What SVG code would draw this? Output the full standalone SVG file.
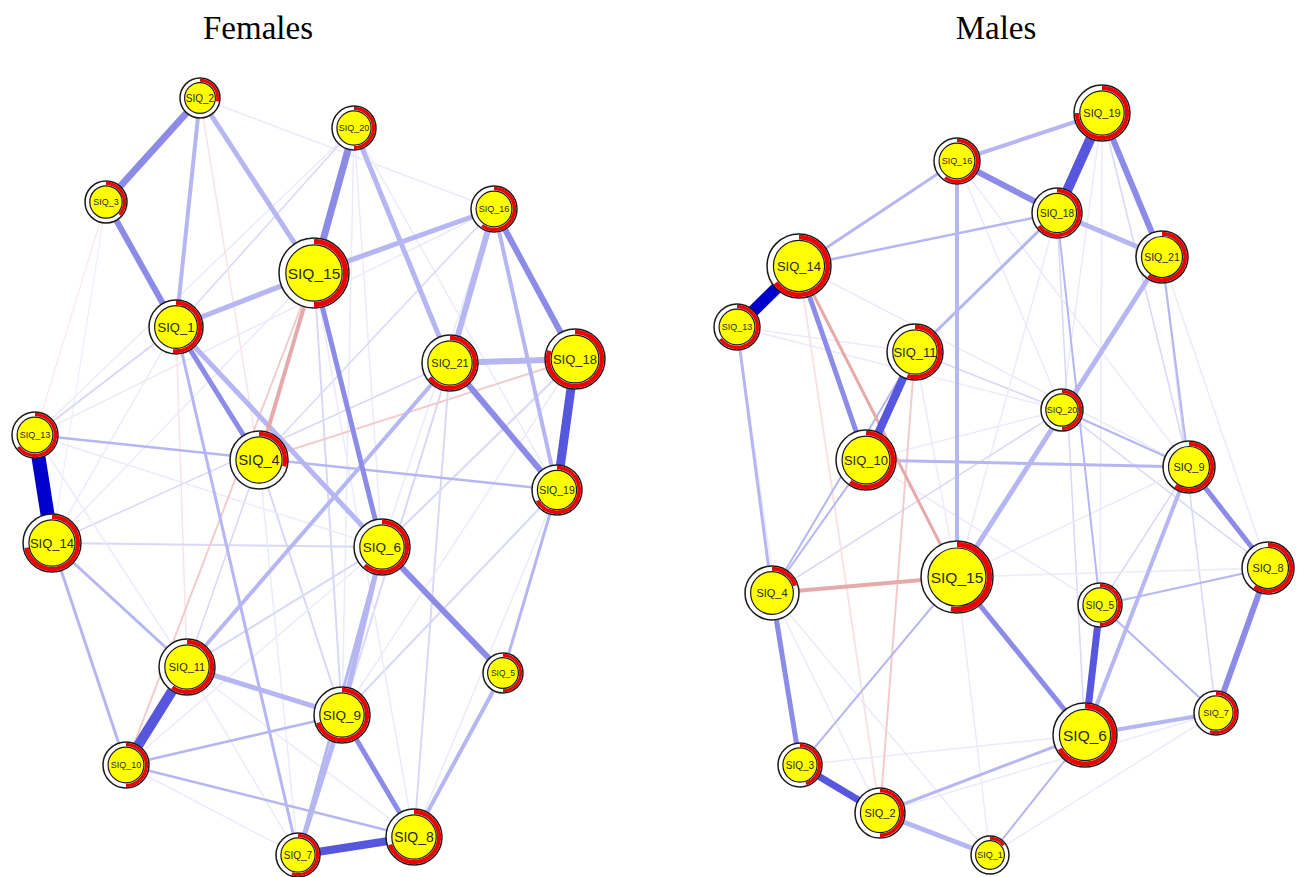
<svg xmlns="http://www.w3.org/2000/svg" width="1298" height="877" viewBox="0 0 1298 877">
<style>
.bg{fill:#fff}
.title{font-family:"Liberation Serif","Times New Roman",serif;font-size:33px;fill:#000;text-anchor:middle}
#edges line{stroke-linecap:butt;fill:none}
.k1{stroke:#0000cc}
.k2{stroke:#5656de}
.k3{stroke:#8c8ce8}
.k4{stroke:#b6b6f2}
.k5{stroke:#d8d8f8}
.k6{stroke:#ebebfc}
.r1{stroke:#e6aaaa}
.r2{stroke:#f2cccc}
.r3{stroke:#f8e4e4}
.o{fill:#fff;stroke:#1a1a1a;stroke-width:1.5}
.p{fill:none;stroke:#ee0000}
.i{fill:#ffff00;stroke:#1a1a1a;stroke-width:1.2}
.node text{font-family:"Liberation Sans",Arial,sans-serif;fill:#2a2a10;text-anchor:middle}
</style>
<rect class="bg" x="0" y="0" width="1298" height="877"/>
<text class="title" x="258" y="39">Females</text>
<text class="title" x="996" y="39">Males</text>
<g id="edges">
<!-- Females faint -->
<line class="k6" stroke-width="1.5" x1="200" y1="98" x2="494" y2="209"/>
<line class="k5" stroke-width="1.5" x1="354" y1="128" x2="176" y2="327"/>
<line class="k6" stroke-width="1.5" x1="354" y1="128" x2="35" y2="435"/>
<line class="k6" stroke-width="1.5" x1="354" y1="128" x2="259" y2="460"/>
<line class="k6" stroke-width="1.5" x1="354" y1="128" x2="342" y2="715"/>
<line class="k6" stroke-width="1.5" x1="354" y1="128" x2="382" y2="547"/>
<line class="k6" stroke-width="1.5" x1="354" y1="128" x2="557" y2="490"/>
<line class="k5" stroke-width="2" x1="494" y1="209" x2="176" y2="327"/>
<line class="k6" stroke-width="1.5" x1="494" y1="209" x2="35" y2="435"/>
<line class="k5" stroke-width="1.5" x1="494" y1="209" x2="259" y2="460"/>
<line class="k6" stroke-width="1.5" x1="494" y1="209" x2="382" y2="547"/>
<line class="r3" stroke-width="1" x1="106" y1="202" x2="35" y2="435"/>
<line class="k6" stroke-width="1" x1="106" y1="202" x2="52" y2="543"/>
<line class="k6" stroke-width="1" x1="106" y1="202" x2="259" y2="460"/>
<line class="r3" stroke-width="1.5" x1="200" y1="98" x2="259" y2="460"/>
<line class="r3" stroke-width="1" x1="200" y1="98" x2="314" y2="273"/>
<line class="k5" stroke-width="2" x1="176" y1="327" x2="35" y2="435"/>
<line class="k6" stroke-width="1.5" x1="176" y1="327" x2="52" y2="543"/>
<line class="r3" stroke-width="1.5" x1="176" y1="327" x2="187" y2="667"/>
<line class="k5" stroke-width="2" x1="176" y1="327" x2="382" y2="547"/>
<line class="k5" stroke-width="2" x1="52" y1="543" x2="382" y2="547"/>
<line class="k5" stroke-width="1.5" x1="52" y1="543" x2="450" y2="363"/>
<line class="k6" stroke-width="1.5" x1="52" y1="543" x2="314" y2="273"/>
<line class="k5" stroke-width="1.5" x1="259" y1="460" x2="187" y2="667"/>
<line class="k5" stroke-width="2" x1="259" y1="460" x2="342" y2="715"/>
<line class="k6" stroke-width="1.5" x1="259" y1="460" x2="298" y2="855"/>
<line class="k5" stroke-width="2" x1="382" y1="547" x2="187" y2="667"/>
<line class="k6" stroke-width="1.5" x1="382" y1="547" x2="126" y2="765"/>
<line class="k5" stroke-width="2" x1="450" y1="363" x2="342" y2="715"/>
<line class="k5" stroke-width="2" x1="450" y1="363" x2="414" y2="837"/>
<line class="k5" stroke-width="2" x1="575" y1="359" x2="382" y2="547"/>
<line class="k6" stroke-width="1.5" x1="575" y1="359" x2="342" y2="715"/>
<line class="k6" stroke-width="1.5" x1="557" y1="490" x2="414" y2="837"/>
<line class="k5" stroke-width="2" x1="557" y1="490" x2="342" y2="715"/>
<line class="k5" stroke-width="2" x1="314" y1="273" x2="342" y2="715"/>
<line class="k6" stroke-width="1.5" x1="314" y1="273" x2="414" y2="837"/>
<line class="k6" stroke-width="1.5" x1="35" y1="435" x2="187" y2="667"/>
<line class="k6" stroke-width="1.5" x1="35" y1="435" x2="382" y2="547"/>
<line class="k6" stroke-width="1.5" x1="126" y1="765" x2="298" y2="855"/>
<line class="k6" stroke-width="1.5" x1="187" y1="667" x2="414" y2="837"/>
<line class="k6" stroke-width="1.5" x1="187" y1="667" x2="298" y2="855"/>
<!-- Females main -->
<line class="r2" stroke-width="2" x1="314" y1="273" x2="126" y2="765"/>
<line class="r2" stroke-width="2" x1="259" y1="460" x2="575" y2="359"/>
<line class="k4" stroke-width="2.5" x1="35" y1="435" x2="557" y2="490"/>
<line class="k4" stroke-width="3" x1="52" y1="543" x2="126" y2="765"/>
<line class="k4" stroke-width="3" x1="52" y1="543" x2="187" y2="667"/>
<line class="k4" stroke-width="2.5" x1="126" y1="765" x2="342" y2="715"/>
<line class="k4" stroke-width="2.5" x1="126" y1="765" x2="414" y2="837"/>
<line class="k4" stroke-width="3" x1="176" y1="327" x2="298" y2="855"/>
<line class="k4" stroke-width="3" x1="382" y1="547" x2="298" y2="855"/>
<line class="k4" stroke-width="3" x1="503" y1="673" x2="557" y2="490"/>
<line class="k4" stroke-width="4" x1="503" y1="673" x2="414" y2="837"/>
<line class="k4" stroke-width="4" x1="200" y1="98" x2="176" y2="327"/>
<line class="k4" stroke-width="5" x1="200" y1="98" x2="314" y2="273"/>
<line class="k4" stroke-width="5" x1="354" y1="128" x2="450" y2="363"/>
<line class="k4" stroke-width="5" x1="314" y1="273" x2="176" y2="327"/>
<line class="k4" stroke-width="5" x1="314" y1="273" x2="494" y2="209"/>
<line class="k4" stroke-width="6" x1="494" y1="209" x2="450" y2="363"/>
<line class="k4" stroke-width="4" x1="494" y1="209" x2="557" y2="490"/>
<line class="k4" stroke-width="6" x1="450" y1="363" x2="575" y2="359"/>
<line class="k4" stroke-width="5" x1="176" y1="327" x2="382" y2="547"/>
<line class="k4" stroke-width="4" x1="187" y1="667" x2="450" y2="363"/>
<line class="k4" stroke-width="5" x1="187" y1="667" x2="342" y2="715"/>
<line class="k4" stroke-width="5" x1="382" y1="547" x2="342" y2="715"/>
<line class="k4" stroke-width="5" x1="342" y1="715" x2="298" y2="855"/>
<line class="r1" stroke-width="4" x1="314" y1="273" x2="259" y2="460"/>
<line class="k3" stroke-width="7" x1="200" y1="98" x2="106" y2="202"/>
<line class="k3" stroke-width="6" x1="106" y1="202" x2="176" y2="327"/>
<line class="k3" stroke-width="7" x1="354" y1="128" x2="314" y2="273"/>
<line class="k3" stroke-width="5" x1="314" y1="273" x2="382" y2="547"/>
<line class="k3" stroke-width="6" x1="494" y1="209" x2="575" y2="359"/>
<line class="k3" stroke-width="6" x1="450" y1="363" x2="557" y2="490"/>
<line class="k3" stroke-width="5" x1="176" y1="327" x2="259" y2="460"/>
<line class="k3" stroke-width="5" x1="342" y1="715" x2="414" y2="837"/>
<line class="k3" stroke-width="6" x1="382" y1="547" x2="503" y2="673"/>
<line class="k2" stroke-width="8" x1="298" y1="855" x2="414" y2="837"/>
<line class="k2" stroke-width="9" x1="575" y1="359" x2="557" y2="490"/>
<line class="k2" stroke-width="10" x1="187" y1="667" x2="126" y2="765"/>
<line class="k1" stroke-width="14" x1="35" y1="435" x2="52" y2="543"/>
<!-- Males faint -->
<line class="k6" stroke-width="1.5" x1="957" y1="161" x2="1062" y2="410"/>
<line class="k6" stroke-width="1.5" x1="1102" y1="113" x2="1062" y2="410"/>
<line class="k5" stroke-width="1.5" x1="1102" y1="113" x2="1189" y2="467"/>
<line class="k6" stroke-width="1.5" x1="1102" y1="113" x2="1100" y2="605"/>
<line class="k6" stroke-width="1.5" x1="1162" y1="257" x2="1268" y2="568"/>
<line class="k6" stroke-width="1.5" x1="737" y1="327" x2="915" y2="352"/>
<line class="k6" stroke-width="1.5" x1="737" y1="327" x2="800" y2="765"/>
<line class="k6" stroke-width="1.5" x1="737" y1="327" x2="1062" y2="410"/>
<line class="k6" stroke-width="1.5" x1="990" y1="855" x2="957" y2="577"/>
<line class="k5" stroke-width="1.5" x1="1100" y1="605" x2="1189" y2="467"/>
<line class="k6" stroke-width="1.5" x1="772" y1="593" x2="880" y2="813"/>
<line class="k6" stroke-width="1.5" x1="772" y1="593" x2="990" y2="855"/>
<line class="k6" stroke-width="1.5" x1="866" y1="460" x2="1062" y2="410"/>
<line class="k5" stroke-width="1.5" x1="915" y1="352" x2="1062" y2="410"/>
<line class="k6" stroke-width="1.5" x1="915" y1="352" x2="957" y2="577"/>
<line class="k6" stroke-width="1.5" x1="880" y1="813" x2="1216" y2="713"/>
<line class="k6" stroke-width="1.5" x1="990" y1="855" x2="1216" y2="713"/>
<line class="k6" stroke-width="1.5" x1="800" y1="765" x2="1085" y2="735"/>
<line class="k6" stroke-width="1.5" x1="799" y1="266" x2="1189" y2="467"/>
<line class="k5" stroke-width="1.5" x1="1057" y1="213" x2="1085" y2="735"/>
<line class="k5" stroke-width="1.5" x1="1162" y1="257" x2="1216" y2="713"/>
<line class="k6" stroke-width="1.5" x1="957" y1="161" x2="1189" y2="467"/>
<line class="k5" stroke-width="1.5" x1="1062" y1="410" x2="1268" y2="568"/>
<line class="k6" stroke-width="1.5" x1="866" y1="460" x2="1100" y2="605"/>
<line class="k6" stroke-width="1.5" x1="1057" y1="213" x2="957" y2="577"/>
<line class="k6" stroke-width="1.5" x1="957" y1="577" x2="1268" y2="568"/>
<line class="k6" stroke-width="1.5" x1="957" y1="577" x2="1189" y2="467"/>
<line class="k5" stroke-width="1.5" x1="772" y1="593" x2="1062" y2="410"/>
<!-- Males main -->
<line class="r3" stroke-width="2" x1="799" y1="266" x2="880" y2="813"/>
<line class="r2" stroke-width="2" x1="915" y1="352" x2="880" y2="813"/>
<line class="k4" stroke-width="3" x1="799" y1="266" x2="957" y2="161"/>
<line class="k4" stroke-width="2.5" x1="799" y1="266" x2="1057" y2="213"/>
<line class="k4" stroke-width="3" x1="915" y1="352" x2="1057" y2="213"/>
<line class="k4" stroke-width="3" x1="866" y1="460" x2="1189" y2="467"/>
<line class="k4" stroke-width="2" x1="866" y1="460" x2="772" y2="593"/>
<line class="k4" stroke-width="3" x1="737" y1="327" x2="772" y2="593"/>
<line class="k4" stroke-width="2" x1="772" y1="593" x2="915" y2="352"/>
<line class="k4" stroke-width="2" x1="1189" y1="467" x2="1062" y2="410"/>
<line class="k4" stroke-width="2" x1="1057" y1="213" x2="1100" y2="605"/>
<line class="k4" stroke-width="2" x1="1162" y1="257" x2="1189" y2="467"/>
<line class="k4" stroke-width="2" x1="800" y1="765" x2="957" y2="577"/>
<line class="k4" stroke-width="2" x1="1100" y1="605" x2="1268" y2="568"/>
<line class="k4" stroke-width="2" x1="1100" y1="605" x2="1216" y2="713"/>
<line class="k4" stroke-width="3" x1="880" y1="813" x2="1085" y2="735"/>
<line class="k4" stroke-width="2" x1="990" y1="855" x2="1085" y2="735"/>
<line class="k4" stroke-width="4" x1="1085" y1="735" x2="1216" y2="713"/>
<line class="k4" stroke-width="4" x1="1085" y1="735" x2="1189" y2="467"/>
<line class="k4" stroke-width="4" x1="957" y1="161" x2="957" y2="577"/>
<line class="k4" stroke-width="4" x1="1102" y1="113" x2="957" y2="161"/>
<line class="k4" stroke-width="5" x1="1057" y1="213" x2="1162" y2="257"/>
<line class="k4" stroke-width="5" x1="1162" y1="257" x2="957" y2="577"/>
<line class="k4" stroke-width="5" x1="880" y1="813" x2="990" y2="855"/>
<line class="r1" stroke-width="3" x1="799" y1="266" x2="957" y2="577"/>
<line class="r1" stroke-width="4" x1="957" y1="577" x2="772" y2="593"/>
<line class="k3" stroke-width="6" x1="1102" y1="113" x2="1162" y2="257"/>
<line class="k3" stroke-width="6" x1="957" y1="161" x2="1057" y2="213"/>
<line class="k3" stroke-width="5" x1="799" y1="266" x2="866" y2="460"/>
<line class="k3" stroke-width="5" x1="957" y1="577" x2="1085" y2="735"/>
<line class="k3" stroke-width="5" x1="1189" y1="467" x2="1268" y2="568"/>
<line class="k3" stroke-width="6" x1="1268" y1="568" x2="1216" y2="713"/>
<line class="k3" stroke-width="5" x1="772" y1="593" x2="800" y2="765"/>
<line class="k2" stroke-width="7" x1="1100" y1="605" x2="1085" y2="735"/>
<line class="k2" stroke-width="7" x1="800" y1="765" x2="880" y2="813"/>
<line class="k2" stroke-width="8" x1="915" y1="352" x2="866" y2="460"/>
<line class="k2" stroke-width="10" x1="1102" y1="113" x2="1057" y2="213"/>
<line class="k1" stroke-width="12" x1="799" y1="266" x2="737" y2="327"/>
</g>
<!-- Female nodes -->
<g id="f-siq2" class="node"><circle class="o" cx="200" cy="98" r="20"/><circle class="p" cx="200" cy="98" r="17.7" stroke-width="3" pathLength="100" stroke-dasharray="28 100" transform="rotate(-90 200 98)"/><circle class="i" cx="200" cy="98" r="15.4"/><text x="200" y="101.5" font-size="10">SIQ_2</text></g>
<g id="f-siq20" class="node"><circle class="o" cx="354" cy="128" r="22"/><circle class="p" cx="354" cy="128" r="19.55" stroke-width="3.3" pathLength="100" stroke-dasharray="50 100" transform="rotate(-90 354 128)"/><circle class="i" cx="354" cy="128" r="17.1"/><text x="354" y="131" font-size="9">SIQ_20</text></g>
<g id="f-siq3" class="node"><circle class="o" cx="106" cy="202" r="21"/><circle class="p" cx="106" cy="202" r="18.6" stroke-width="3.2" pathLength="100" stroke-dasharray="37 100" transform="rotate(-90 106 202)"/><circle class="i" cx="106" cy="202" r="16.2"/><text x="106" y="205" font-size="9">SIQ_3</text></g>
<g id="f-siq15" class="node"><circle class="o" cx="314" cy="273" r="35"/><circle class="p" cx="314" cy="273" r="31.6" stroke-width="5.2" pathLength="100" stroke-dasharray="50 100" transform="rotate(-90 314 273)"/><circle class="i" cx="314" cy="273" r="28.2"/><text x="314" y="278.5" font-size="15.5">SIQ_15</text></g>
<g id="f-siq16" class="node"><circle class="o" cx="494" cy="209" r="23"/><circle class="p" cx="494" cy="209" r="20.45" stroke-width="3.5" pathLength="100" stroke-dasharray="60 100" transform="rotate(-90 494 209)"/><circle class="i" cx="494" cy="209" r="17.9"/><text x="494" y="212" font-size="9">SIQ_16</text></g>
<g id="f-siq1" class="node"><circle class="o" cx="176" cy="327" r="27"/><circle class="p" cx="176" cy="327" r="24.2" stroke-width="4" pathLength="100" stroke-dasharray="52 100" transform="rotate(-90 176 327)"/><circle class="i" cx="176" cy="327" r="21.4"/><text x="176" y="331.5" font-size="13">SIQ_1</text></g>
<g id="f-siq21" class="node"><circle class="o" cx="450" cy="363" r="28"/><circle class="p" cx="450" cy="363" r="25.1" stroke-width="4.2" pathLength="100" stroke-dasharray="65 100" transform="rotate(-90 450 363)"/><circle class="i" cx="450" cy="363" r="22.2"/><text x="450" y="367" font-size="11">SIQ_21</text></g>
<g id="f-siq18" class="node"><circle class="o" cx="575" cy="359" r="30"/><circle class="p" cx="575" cy="359" r="26.95" stroke-width="4.5" pathLength="100" stroke-dasharray="80 100" transform="rotate(-90 575 359)"/><circle class="i" cx="575" cy="359" r="23.9"/><text x="575" y="363.5" font-size="13">SIQ_18</text></g>
<g id="f-siq13" class="node"><circle class="o" cx="35" cy="435" r="23"/><circle class="p" cx="35" cy="435" r="20.45" stroke-width="3.5" pathLength="100" stroke-dasharray="65 100" transform="rotate(-90 35 435)"/><circle class="i" cx="35" cy="435" r="17.9"/><text x="35" y="438" font-size="9">SIQ_13</text></g>
<g id="f-siq4" class="node"><circle class="o" cx="259" cy="460" r="29"/><circle class="p" cx="259" cy="460" r="26.05" stroke-width="4.3" pathLength="100" stroke-dasharray="29 100" transform="rotate(-90 259 460)"/><circle class="i" cx="259" cy="460" r="23.1"/><text x="259" y="465" font-size="14.5">SIQ_4</text></g>
<g id="f-siq19" class="node"><circle class="o" cx="557" cy="490" r="25"/><circle class="p" cx="557" cy="490" r="22.3" stroke-width="3.8" pathLength="100" stroke-dasharray="67 100" transform="rotate(-90 557 490)"/><circle class="i" cx="557" cy="490" r="19.6"/><text x="557" y="493.7" font-size="10.5">SIQ_19</text></g>
<g id="f-siq14" class="node"><circle class="o" cx="52" cy="543" r="29"/><circle class="p" cx="52" cy="543" r="26.05" stroke-width="4.3" pathLength="100" stroke-dasharray="72 100" transform="rotate(-90 52 543)"/><circle class="i" cx="52" cy="543" r="23.1"/><text x="52" y="547.5" font-size="13">SIQ_14</text></g>
<g id="f-siq6" class="node"><circle class="o" cx="382" cy="547" r="28"/><circle class="p" cx="382" cy="547" r="25.1" stroke-width="4.2" pathLength="100" stroke-dasharray="62 100" transform="rotate(-90 382 547)"/><circle class="i" cx="382" cy="547" r="22.2"/><text x="382" y="551.5" font-size="13.5">SIQ_6</text></g>
<g id="f-siq5" class="node"><circle class="o" cx="503" cy="673" r="20"/><circle class="p" cx="503" cy="673" r="17.7" stroke-width="3" pathLength="100" stroke-dasharray="50 100" transform="rotate(-90 503 673)"/><circle class="i" cx="503" cy="673" r="15.4"/><text x="503" y="676" font-size="8.5">SIQ_5</text></g>
<g id="f-siq11" class="node"><circle class="o" cx="187" cy="667" r="28"/><circle class="p" cx="187" cy="667" r="25.1" stroke-width="4.2" pathLength="100" stroke-dasharray="60 100" transform="rotate(-90 187 667)"/><circle class="i" cx="187" cy="667" r="22.2"/><text x="187" y="671" font-size="11">SIQ_11</text></g>
<g id="f-siq9" class="node"><circle class="o" cx="342" cy="715" r="28"/><circle class="p" cx="342" cy="715" r="25.1" stroke-width="4.2" pathLength="100" stroke-dasharray="70 100" transform="rotate(-90 342 715)"/><circle class="i" cx="342" cy="715" r="22.2"/><text x="342" y="719.5" font-size="13.5">SIQ_9</text></g>
<g id="f-siq10" class="node"><circle class="o" cx="126" cy="765" r="23"/><circle class="p" cx="126" cy="765" r="20.45" stroke-width="3.5" pathLength="100" stroke-dasharray="50 100" transform="rotate(-90 126 765)"/><circle class="i" cx="126" cy="765" r="17.9"/><text x="126" y="768" font-size="9">SIQ_10</text></g>
<g id="f-siq8" class="node"><circle class="o" cx="414" cy="837" r="28"/><circle class="p" cx="414" cy="837" r="25.1" stroke-width="4.2" pathLength="100" stroke-dasharray="70 100" transform="rotate(-90 414 837)"/><circle class="i" cx="414" cy="837" r="22.2"/><text x="414" y="842" font-size="14">SIQ_8</text></g>
<g id="f-siq7" class="node"><circle class="o" cx="298" cy="855" r="22"/><circle class="p" cx="298" cy="855" r="19.55" stroke-width="3.3" pathLength="100" stroke-dasharray="55 100" transform="rotate(-90 298 855)"/><circle class="i" cx="298" cy="855" r="17.1"/><text x="298" y="858.5" font-size="10">SIQ_7</text></g>
<!-- Male nodes -->
<g id="m-siq19" class="node"><circle class="o" cx="1102" cy="113" r="28"/><circle class="p" cx="1102" cy="113" r="25.1" stroke-width="4.2" pathLength="100" stroke-dasharray="75 100" transform="rotate(-90 1102 113)"/><circle class="i" cx="1102" cy="113" r="22.2"/><text x="1102" y="117" font-size="11">SIQ_19</text></g>
<g id="m-siq16" class="node"><circle class="o" cx="957" cy="161" r="23"/><circle class="p" cx="957" cy="161" r="20.45" stroke-width="3.5" pathLength="100" stroke-dasharray="60 100" transform="rotate(-90 957 161)"/><circle class="i" cx="957" cy="161" r="17.9"/><text x="957" y="164" font-size="9">SIQ_16</text></g>
<g id="m-siq18" class="node"><circle class="o" cx="1057" cy="213" r="25"/><circle class="p" cx="1057" cy="213" r="22.3" stroke-width="3.8" pathLength="100" stroke-dasharray="65 100" transform="rotate(-90 1057 213)"/><circle class="i" cx="1057" cy="213" r="19.6"/><text x="1057" y="216.5" font-size="10">SIQ_18</text></g>
<g id="m-siq21" class="node"><circle class="o" cx="1162" cy="257" r="26"/><circle class="p" cx="1162" cy="257" r="23.25" stroke-width="3.9" pathLength="100" stroke-dasharray="60 100" transform="rotate(-90 1162 257)"/><circle class="i" cx="1162" cy="257" r="20.5"/><text x="1162" y="260.8" font-size="10.5">SIQ_21</text></g>
<g id="m-siq14" class="node"><circle class="o" cx="799" cy="266" r="32"/><circle class="p" cx="799" cy="266" r="28.8" stroke-width="4.8" pathLength="100" stroke-dasharray="65 100" transform="rotate(-90 799 266)"/><circle class="i" cx="799" cy="266" r="25.6"/><text x="799" y="270.5" font-size="13">SIQ_14</text></g>
<g id="m-siq13" class="node"><circle class="o" cx="737" cy="327" r="23"/><circle class="p" cx="737" cy="327" r="20.45" stroke-width="3.5" pathLength="100" stroke-dasharray="65 100" transform="rotate(-90 737 327)"/><circle class="i" cx="737" cy="327" r="17.9"/><text x="737" y="330" font-size="9">SIQ_13</text></g>
<g id="m-siq11" class="node"><circle class="o" cx="915" cy="352" r="28"/><circle class="p" cx="915" cy="352" r="25.1" stroke-width="4.2" pathLength="100" stroke-dasharray="55 100" transform="rotate(-90 915 352)"/><circle class="i" cx="915" cy="352" r="22.2"/><text x="915" y="356.5" font-size="13">SIQ_11</text></g>
<g id="m-siq20" class="node"><circle class="o" cx="1062" cy="410" r="21"/><circle class="p" cx="1062" cy="410" r="18.6" stroke-width="3.2" pathLength="100" stroke-dasharray="50 100" transform="rotate(-90 1062 410)"/><circle class="i" cx="1062" cy="410" r="16.2"/><text x="1062" y="413" font-size="9">SIQ_20</text></g>
<g id="m-siq10" class="node"><circle class="o" cx="866" cy="460" r="30"/><circle class="p" cx="866" cy="460" r="26.95" stroke-width="4.5" pathLength="100" stroke-dasharray="60 100" transform="rotate(-90 866 460)"/><circle class="i" cx="866" cy="460" r="23.9"/><text x="866" y="464.5" font-size="13">SIQ_10</text></g>
<g id="m-siq9" class="node"><circle class="o" cx="1189" cy="467" r="26"/><circle class="p" cx="1189" cy="467" r="23.25" stroke-width="3.9" pathLength="100" stroke-dasharray="60 100" transform="rotate(-90 1189 467)"/><circle class="i" cx="1189" cy="467" r="20.5"/><text x="1189" y="471" font-size="11">SIQ_9</text></g>
<g id="m-siq15" class="node"><circle class="o" cx="957" cy="577" r="36"/><circle class="p" cx="957" cy="577" r="32.5" stroke-width="5.4" pathLength="100" stroke-dasharray="53 100" transform="rotate(-90 957 577)"/><circle class="i" cx="957" cy="577" r="29"/><text x="957" y="582.5" font-size="15.5">SIQ_15</text></g>
<g id="m-siq4" class="node"><circle class="o" cx="772" cy="593" r="27"/><circle class="p" cx="772" cy="593" r="24.2" stroke-width="4" pathLength="100" stroke-dasharray="20 100" transform="rotate(-90 772 593)"/><circle class="i" cx="772" cy="593" r="21.4"/><text x="772" y="597" font-size="11">SIQ_4</text></g>
<g id="m-siq8" class="node"><circle class="o" cx="1268" cy="568" r="26"/><circle class="p" cx="1268" cy="568" r="23.25" stroke-width="3.9" pathLength="100" stroke-dasharray="60 100" transform="rotate(-90 1268 568)"/><circle class="i" cx="1268" cy="568" r="20.5"/><text x="1268" y="572" font-size="11">SIQ_8</text></g>
<g id="m-siq5" class="node"><circle class="o" cx="1100" cy="605" r="22"/><circle class="p" cx="1100" cy="605" r="19.55" stroke-width="3.3" pathLength="100" stroke-dasharray="50 100" transform="rotate(-90 1100 605)"/><circle class="i" cx="1100" cy="605" r="17.1"/><text x="1100" y="608.5" font-size="10">SIQ_5</text></g>
<g id="m-siq6" class="node"><circle class="o" cx="1085" cy="735" r="32"/><circle class="p" cx="1085" cy="735" r="28.8" stroke-width="4.8" pathLength="100" stroke-dasharray="67 100" transform="rotate(-90 1085 735)"/><circle class="i" cx="1085" cy="735" r="25.6"/><text x="1085" y="740.5" font-size="15.5">SIQ_6</text></g>
<g id="m-siq7" class="node"><circle class="o" cx="1216" cy="713" r="22"/><circle class="p" cx="1216" cy="713" r="19.55" stroke-width="3.3" pathLength="100" stroke-dasharray="55 100" transform="rotate(-90 1216 713)"/><circle class="i" cx="1216" cy="713" r="17.1"/><text x="1216" y="716" font-size="9">SIQ_7</text></g>
<g id="m-siq3" class="node"><circle class="o" cx="800" cy="765" r="22"/><circle class="p" cx="800" cy="765" r="19.55" stroke-width="3.3" pathLength="100" stroke-dasharray="45 100" transform="rotate(-90 800 765)"/><circle class="i" cx="800" cy="765" r="17.1"/><text x="800" y="768.5" font-size="10">SIQ_3</text></g>
<g id="m-siq2" class="node"><circle class="o" cx="880" cy="813" r="25"/><circle class="p" cx="880" cy="813" r="22.3" stroke-width="3.8" pathLength="100" stroke-dasharray="50 100" transform="rotate(-90 880 813)"/><circle class="i" cx="880" cy="813" r="19.6"/><text x="880" y="817" font-size="11">SIQ_2</text></g>
<g id="m-siq1" class="node"><circle class="o" cx="990" cy="855" r="19"/><circle class="p" cx="990" cy="855" r="16.7" stroke-width="3" pathLength="100" stroke-dasharray="15 100" transform="rotate(-90 990 855)"/><circle class="i" cx="990" cy="855" r="14.4"/><text x="990" y="858" font-size="9">SIQ_1</text></g>
</svg>
